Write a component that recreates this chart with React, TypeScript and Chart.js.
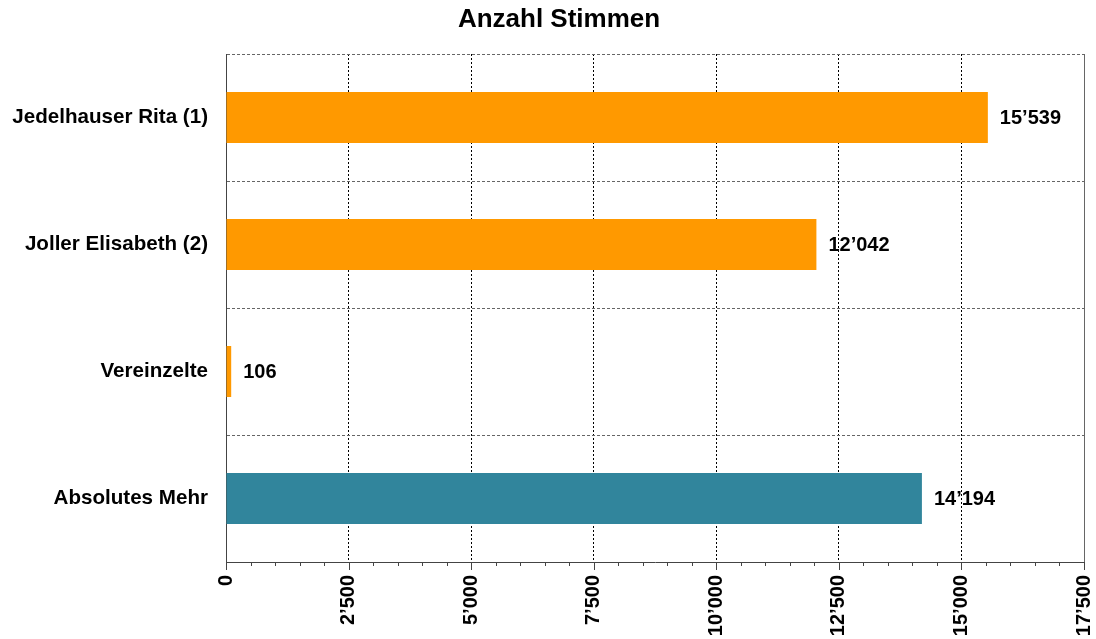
import React, { useEffect, useRef } from "react";
import { Chart, registerables } from "chart.js";

Chart.register(...registerables);

const categories = ["Jedelhauser Rita (1)", "Joller Elisabeth (2)", "Vereinzelte", "Absolutes Mehr"];
const votes = [15539, 12042, 106, 14194];
const barColors = ["#FF9900", "#FF9900", "#FF9900", "#31859C"];
const titleText = "Anzahl Stimmen";
const xMin = 0;
const xMax = 17500;
const majorStep = 2500;
const minorStep = 500;

const FONT = "'Liberation Sans', Arial, sans-serif";

const fmt = (n: number) => String(n).replace(/\B(?=(\d{3})+(?!\d))/g, "\u2019");

export default function App() {
  const ref = useRef<HTMLCanvasElement | null>(null);

  useEffect(() => {
    if (!ref.current) return;

    const decorations = {
      id: "decorations",
      afterDraw(chart: any) {
        const { ctx, chartArea } = chart;
        const xs = chart.scales.x;
        ctx.save();
        // title
        ctx.font = `bold 26px ${FONT}`;
        ctx.fillStyle = "#000";
        ctx.textAlign = "center";
        ctx.textBaseline = "alphabetic";
        ctx.fillText(titleText, 559, 27);
        // right border
        ctx.strokeStyle = "#666";
        ctx.lineWidth = 1;
        ctx.setLineDash([]);
        ctx.beginPath();
        ctx.moveTo(Math.round(chartArea.right) + 0.5, chartArea.top);
        ctx.lineTo(Math.round(chartArea.right) + 0.5, chartArea.bottom);
        ctx.stroke();
        // ticks on x axis
        ctx.strokeStyle = "#444";
        for (let v = xMin; v <= xMax; v += minorStep) {
          const x = Math.round(xs.getPixelForValue(v)) + 0.5;
          const len = v % majorStep === 0 ? 8 : 4;
          ctx.beginPath();
          ctx.moveTo(x, chartArea.bottom);
          ctx.lineTo(x, chartArea.bottom + len);
          ctx.stroke();
        }
        ctx.restore();
      },
      afterDatasetsDraw(chart: any) {
        const { ctx } = chart;
        const meta = chart.getDatasetMeta(0);
        ctx.save();
        ctx.font = `bold 20px ${FONT}`;
        ctx.fillStyle = "#000";
        ctx.textAlign = "left";
        ctx.textBaseline = "middle";
        meta.data.forEach((bar: any, i: number) => {
          ctx.fillText(fmt(votes[i]), bar.x + 12, bar.y + 1);
        });
        ctx.restore();
      },
    };

    const chart = new Chart(ref.current, {
      type: "bar",
      data: {
        labels: categories,
        datasets: [
          {
            data: votes,
            backgroundColor: barColors,
            borderWidth: 0,
            categoryPercentage: 1,
            barPercentage: 51 / 127,
          },
        ],
      },
      options: {
        indexAxis: "y",
        animation: false,
        responsive: true,
        maintainAspectRatio: false,
        layout: { padding: { top: 54, right: 12, left: 0, bottom: 0 } },
        plugins: {
          legend: { display: false },
          title: { display: false },
          tooltip: { enabled: false },
        },
        scales: {
          x: {
            min: xMin,
            max: xMax,
            afterFit: (s: any) => {
              s.height = 77;
              s.paddingLeft = 0;
              s.paddingRight = 0;
            },
            ticks: {
              stepSize: minorStep,
              autoSkip: false,
              minRotation: 90,
              maxRotation: 90,
              padding: 13,
              color: "#000",
              font: { family: FONT, size: 20, weight: "bold" },
              callback: (v: any) => (Number(v) % majorStep === 0 ? fmt(Number(v)) : ""),
            },
            grid: {
              drawTicks: false,
              lineWidth: 1,
              color: (c: any) => {
                const v = c.tick ? c.tick.value : null;
                if (v === null || v === xMin || v === xMax) return "transparent";
                return v % majorStep === 0 ? "#000" : "transparent";
              },
            },
            border: { display: true, color: "#444", width: 1, dash: [2, 2] },
          },
          y: {
            afterFit: (s: any) => {
              s.width = 226;
              s.paddingTop = 0;
              s.paddingBottom = 0;
            },
            ticks: {
              padding: 18,
              color: "#000",
              font: { family: FONT, size: 20.6, weight: "bold" },
            },
            grid: {
              offset: true,
              drawTicks: false,
              lineWidth: 1,
              color: (c: any) => (c.type === "tick" ? "#666" : "transparent"),
            },
            border: { display: true, color: "#444", width: 1, dash: [3, 2] },
          },
        },
      },
      plugins: [decorations],
    });

    return () => chart.destroy();
  }, []);

  return (
    <div style={{ position: "fixed", left: 0, top: 0, width: 1096, height: 639, background: "#fff" }}>
      <canvas ref={ref} />
    </div>
  );
}
